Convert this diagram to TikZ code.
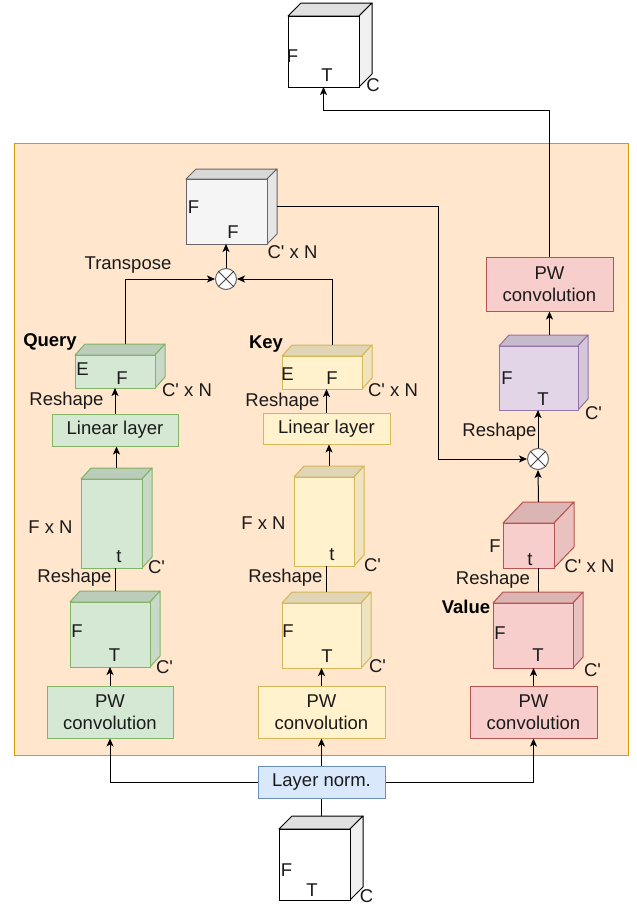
\documentclass[tikz,border=0pt]{standalone}
\usepackage{fontspec}
\setmainfont{Liberation Sans}
\usetikzlibrary{arrows.meta,calc}

\definecolor{panelfill}{HTML}{FFE6CC}
\definecolor{panelline}{HTML}{D79B00}
\definecolor{greenfill}{HTML}{D5E8D4}
\definecolor{greenline}{HTML}{82B366}
\definecolor{yellowfill}{HTML}{FFF2CC}
\definecolor{yellowline}{HTML}{D6B656}
\definecolor{redfill}{HTML}{F8CECC}
\definecolor{redline}{HTML}{B85450}
\definecolor{purplefill}{HTML}{E1D5E7}
\definecolor{purpleline}{HTML}{9673A6}
\definecolor{bluefill}{HTML}{DAE8FC}
\definecolor{blueline}{HTML}{6C8EBF}
\definecolor{grayfill}{HTML}{F5F5F5}
\definecolor{grayline}{HTML}{666666}
\definecolor{whitefill}{HTML}{FFFFFF}
\definecolor{whiteline}{HTML}{000000}
\definecolor{txt}{HTML}{1A1A1A}

% straight apostrophe for the channel labels
\newcommand{\pr}{\textquotesingle}

\tikzset{
  lbl/.style={inner sep=0pt, font=\fontsize{18.5}{22}\selectfont, text=txt},
  bold/.style={lbl, font=\fontsize{18.5}{22}\selectfont\bfseries, text=black},
  opbox/.style={draw=#1line, fill=#1fill, line width=1pt, inner sep=0pt,
    align=center, font=\fontsize{18.5}{22}\selectfont, text=txt},
  arr/.style={line width=1pt, -{Stealth[length=8pt,width=7pt,inset=2pt]}},
  wire/.style={line width=1pt},
  multnode/.style={circle, draw=grayline, fill=white, line width=1pt,
    minimum size=21pt, inner sep=0pt},
}

% 3-D block: name, left, top, right, bottom, depth x, depth y, colour family
\newcommand{\cubeat}[8]{%
  \filldraw[draw=#8line, fill=#8fill!88!black, line width=1pt, line join=round]
    (#2,#3) -- ({#2+#6},{#3-#7}) -- ({#4+#6},{#3-#7}) -- (#4,#3) -- cycle;
  \filldraw[draw=#8line, fill=#8fill!94!black, line width=1pt, line join=round]
    (#4,#3) -- ({#4+#6},{#3-#7}) -- ({#4+#6},{#5-#7}) -- (#4,#5) -- cycle;
  \node[draw=#8line, fill=#8fill, line width=1pt, inner sep=0pt, outer sep=0pt,
    minimum width={(#4-#2)*1pt}, minimum height={(#5-#3)*1pt},
    anchor=north west] (#1) at (#2,#3) {};
  \coordinate (#1-top) at ({(#2+#4+#6)/2},{#3-#7});
  \coordinate (#1-right) at ({#4+#6},{(#3-#7+#5)/2});
}

\begin{document}
\begin{tikzpicture}[x=1pt, y=-1pt]
\useasboundingbox (0,0) rectangle (637,910);

% background panel of the attention block
\filldraw[fill=panelfill, draw=panelline, line width=1pt] (14,143) rectangle (628,755);

% tensors
\cubeat{outCube}{288}{16}{359}{87}{13}{13}{white}
\cubeat{attnCube}{186}{179}{267}{244}{10}{10}{gray}
\cubeat{qSmall}{75}{355}{155}{388}{10}{11}{green}
\cubeat{kSmall}{282}{356}{362}{389}{10}{11}{yellow}
\cubeat{qTall}{81}{479}{142}{568}{10}{11}{green}
\cubeat{kTall}{294}{477}{354}{566}{10}{11}{yellow}
\cubeat{qCube}{70}{602}{150}{667}{10}{11}{green}
\cubeat{kCube}{282}{603}{361}{668}{10}{11}{yellow}
\cubeat{vSmall}{503}{523}{554}{568}{20}{21}{red}
\cubeat{vCube}{493}{603}{573}{668}{10}{11}{red}
\cubeat{pCube}{499}{346}{578}{410}{10}{11}{purple}
\cubeat{inCube}{279}{829}{350}{900}{13}{13}{white}

% operations
\node[opbox=green, minimum width=126pt, minimum height=52pt] (qPW) at (110,712) {PW\\convolution};
\node[opbox=yellow, minimum width=127pt, minimum height=52pt] (kPW) at (321.5,712) {PW\\convolution};
\node[opbox=red, minimum width=127pt, minimum height=52pt] (vPW) at (533.5,712) {PW\\convolution};
\node[opbox=red, minimum width=127pt, minimum height=54pt] (pPW) at (549.5,284) {PW\\convolution};
\node[opbox=green, minimum width=126pt, minimum height=32pt] (qLin) at (115,430) {Linear layer};
\node[opbox=yellow, minimum width=127pt, minimum height=31pt] (kLin) at (326.5,428.5) {Linear layer};
\node[opbox=blue, minimum width=127pt, minimum height=32pt] (ln) at (321.5,782) {Layer norm.};

\node[multnode] (mult) at (226,279) {};
\draw[grayline!70!black, line width=1pt] (mult.north east) -- (mult.south west) (mult.north west) -- (mult.south east);
\node[multnode] (vmult) at (538,459) {};
\draw[grayline!70!black, line width=1pt] (vmult.north east) -- (vmult.south west) (vmult.north west) -- (vmult.south east);

\coordinate (vbend) at (438,459);
\coordinate (outturn) at (323.5,110);

% connectors
\draw[wire] (inCube-top) -- (inCube-top |- ln.south);
\draw[arr] (ln.north) -- (ln.north |- kPW.south);
\draw[arr] (ln.west) -| (qPW.south);
\draw[arr] (ln.east) -| (vPW.south);

\draw[arr] (qPW.north) -- (qPW.north |- qCube.south);
\draw[wire] (qCube-top) -- (qCube-top |- qTall.south);
\draw[arr] (qTall-top) -- (qTall-top |- qLin.south);
\draw[arr] (qLin.north) -- (qLin.north |- qSmall.south);
\draw[arr] ([xshift=5pt]qSmall-top) |- (mult.west);

\draw[arr] (kPW.north) -- (kPW.north |- kCube.south);
\draw[wire] (kCube-top) -- (kCube-top |- kTall.south);
\draw[arr] (kTall-top) -- (kTall-top |- kLin.south);
\draw[arr] (kLin.north) -- (kLin.north |- kSmall.south);
\draw[arr] ([xshift=5pt]kSmall-top) |- (mult.east);

\draw[arr] (mult.north) -- (mult.north |- attnCube.south);
\draw[arr] (attnCube-right) -| (vbend) -- (vmult.west);

\draw[arr] (vPW.north) -- (vPW.north |- vCube.south);
\draw[wire] (vCube-top) -- (vCube-top |- vSmall.south);
\draw[arr] (vSmall-top) -- (vmult.south);
\draw[arr] (vmult.north) -- (vmult.north |- pCube.south);
\draw[arr] (pPW.south |- pCube-top) -- (pPW.south);
\draw[arr] (pPW.north) |- (outturn) -- (outCube.south);

% dimension labels
\node[lbl] (oF) at (292.5,56) {F};
\node[lbl] (oT) at (327,75) {T};
\node[lbl] (oC) at (373,85) {C};

\node[lbl] (aF1) at (193.5,207) {F};
\node[lbl] (aF2) at (233,232) {F};
\node[lbl] (aC) at (292.5,252) {C\pr{} x N};
\node[lbl] (trans) at (128,265) {Transpose};

\node[bold] (qName) at (50,342) {Query};
\node[lbl] (qsE) at (82.5,369) {E};
\node[lbl] (qsF) at (122,378) {F};
\node[lbl] (qsC) at (187,390) {C\pr{} x N};
\node[lbl] (qR1) at (66.5,401) {Reshape};
\node[lbl] (qtFN) at (50.5,527) {F x N};
\node[lbl] (qtt) at (119,557) {t};
\node[lbl] (qtC) at (156.5,567) {C\pr};
\node[lbl] (qR2) at (74.5,577.5) {Reshape};
\node[lbl] (qcF) at (77,631) {F};
\node[lbl] (qcT) at (114.5,655) {T};
\node[lbl] (qcC) at (164.5,667) {C\pr};

\node[bold] (kName) at (266,344) {Key};
\node[lbl] (ksE) at (287.5,374) {E};
\node[lbl] (ksF) at (332,378.5) {F};
\node[lbl] (ksC) at (393,390) {C\pr{} x N};
\node[lbl] (kR1) at (282.5,401.5) {Reshape};
\node[lbl] (ktFN) at (263.5,523.5) {F x N};
\node[lbl] (ktt) at (332,555) {t};
\node[lbl] (ktC) at (372.5,565) {C\pr};
\node[lbl] (kR2) at (285.5,577.5) {Reshape};
\node[lbl] (kcF) at (288,631) {F};
\node[lbl] (kcT) at (327,656.5) {T};
\node[lbl] (kcC) at (377.5,666.5) {C\pr};

\node[lbl] (vsF) at (495,546) {F};
\node[lbl] (vst) at (530,559.5) {t};
\node[lbl] (vsC) at (589.5,566) {C\pr{} x N};
\node[lbl] (vR) at (493,580) {Reshape};
\node[bold] (vName) at (466,606.5) {Value};
\node[lbl] (vcF) at (500,633) {F};
\node[lbl] (vcT) at (538,655) {T};
\node[lbl] (vcC) at (592.5,670) {C\pr};

\node[lbl] (pF) at (507,378.5) {F};
\node[lbl] (pT) at (543,399.5) {T};
\node[lbl] (pC) at (593.5,413.5) {C\pr};
\node[lbl] (pR) at (499.5,431.5) {Reshape};

\node[lbl] (iF) at (286.5,870.5) {F};
\node[lbl] (iT) at (312,890.5) {T};
\node[lbl] (iC) at (366.5,896.5) {C};
\end{tikzpicture}
\end{document}
